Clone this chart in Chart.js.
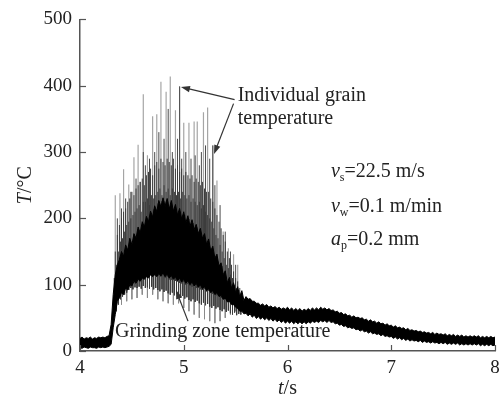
<!DOCTYPE html>
<html>
<head>
<meta charset="utf-8">
<script src="https://cdn.jsdelivr.net/npm/chart.js@4.4.1/dist/chart.umd.min.js"></script>
<style>
html, body { margin: 0; padding: 0; background: #fff; }
</style>
</head>
<body>
<canvas id="tempcanvas" width="499" height="397"></canvas>
<script>
// sampled band of the signal (every 0.02 s from 4.00 s to 8.00 s)
var bandStart = 4.0;
var bandStep = 0.02;
var bandLow = [
    5, 4, 6, 5, 4, 6, 5, 5, 4, 6,
    5, 6, 5, 6, 7, 10, 35, 55, 75, 80,
    88, 85, 95, 92, 100, 98, 105, 102, 108, 105,
    110, 108, 112, 110, 115, 112, 116, 112, 117, 113,
    118, 112, 116, 110, 114, 108, 112, 106, 110, 104,
    108, 102, 106, 100, 104, 98, 102, 96, 100, 94,
    97, 91, 94, 88, 91, 85, 88, 82, 84, 78,
    80, 74, 75, 70, 70, 66, 64, 60, 60, 56,
    57, 53, 56, 51, 54, 49, 52, 48, 51, 47,
    50, 46, 49, 45, 48, 44, 47, 43, 46, 42,
    45, 42, 45, 41, 44, 41, 44, 41, 44, 41,
    44, 42, 45, 43, 45, 43, 46, 44, 46, 43,
    46, 43, 44, 41, 42, 39, 40, 37, 38, 35,
    36, 34, 35, 32, 33, 30, 32, 29, 30, 27,
    29, 26, 27, 25, 26, 23, 25, 22, 23, 21,
    22, 19, 21, 18, 20, 17, 19, 16, 18, 15,
    17, 15, 16, 14, 16, 13, 15, 13, 14, 12,
    14, 12, 13, 11, 13, 11, 13, 10, 12, 10,
    12, 10, 12, 9, 11, 9, 11, 9, 11, 9,
    11, 9, 11, 8, 10, 8, 10, 8, 10, 8,
    9
];
var bandHigh = [
    19, 21, 18, 20, 19, 21, 18, 20, 19, 21,
    20, 21, 20, 22, 23, 40, 85, 115, 130, 138,
    150, 143, 160, 152, 170, 160, 177, 170, 187, 178,
    195, 187, 203, 195, 211, 202, 219, 210, 227, 217,
    231, 218, 230, 214, 227, 211, 221, 205, 215, 199,
    210, 193, 204, 188, 198, 183, 191, 177, 185, 170,
    177, 161, 169, 151, 158, 140, 146, 128, 133, 115,
    121, 103, 111, 95, 103, 88, 97, 81, 91, 76,
    82, 78, 79, 75, 75, 72, 72, 69, 71, 68,
    70, 66, 68, 65, 67, 64, 66, 63, 65, 63,
    66, 62, 65, 61, 64, 61, 64, 60, 63, 61,
    64, 61, 65, 62, 65, 62, 66, 63, 65, 62,
    64, 61, 62, 59, 60, 57, 58, 55, 56, 53,
    54, 51, 53, 50, 51, 49, 50, 47, 48, 45,
    47, 44, 45, 42, 44, 41, 42, 39, 41, 38,
    39, 36, 38, 35, 36, 34, 35, 32, 34, 31,
    32, 30, 31, 29, 30, 28, 29, 27, 28, 26,
    28, 25, 27, 25, 26, 24, 26, 23, 25, 23,
    25, 22, 24, 22, 24, 21, 23, 21, 23, 21,
    23, 21, 23, 20, 22, 20, 22, 20, 22, 20,
    21
];

// dense dark spikes above the band (every 0.01 s from 4.33 s)
var jagUpStart = 4.33;
var jagUp = [
    110, 150, 130, 175, 150, 190, 165, 200, 170, 210,
    180, 215, 190, 225, 195, 230, 200, 240, 205, 235,
    210, 245, 215, 250, 220, 255, 210, 260, 225, 250,
    225, 265, 230, 270, 220, 275, 235, 265, 230, 280,
    235, 285, 240, 275, 245, 290, 235, 285, 250, 280,
    240, 290, 245, 285, 235, 280, 245, 290, 240, 275,
    235, 280, 240, 270, 230, 275, 240, 265, 235, 270,
    230, 265, 235, 260, 225, 265, 230, 255, 225, 260,
    220, 255, 225, 250, 215, 255, 220, 245, 210, 240,
    205, 240, 200, 230, 195, 225, 185, 215, 175, 205,
    170, 195, 160, 185, 150, 175, 140, 165, 130, 150,
    125, 140, 115, 130, 110, 120, 100, 110, 95, 105,
    90, 95, 88
];
// dense dark dips below the band (every 0.01 s from 4.35 s)
var jagDownStart = 4.35;
var jagDown = [
    60, 80, 70, 90, 78, 95, 82, 100, 85, 105,
    88, 108, 92, 110, 95, 112, 93, 110, 96, 115,
    95, 112, 97, 115, 94, 113, 98, 116, 95, 114,
    96, 117, 94, 115, 97, 118, 93, 114, 95, 116,
    92, 113, 90, 112, 93, 114, 89, 110, 91, 112,
    87, 108, 85, 107, 88, 110, 84, 106, 86, 105,
    82, 103, 80, 102, 83, 104, 79, 100, 81, 101,
    77, 98, 75, 97, 78, 99, 74, 95, 76, 96,
    72, 93, 70, 92, 73, 94, 69, 90, 71, 91,
    67, 88, 65, 86, 68, 89, 64, 84, 66, 85,
    62, 80, 60, 78, 63, 80, 59, 76, 61, 75,
    57, 72, 55, 70, 58, 70, 54, 67, 56, 65,
    55
];

// individual grain spikes (light grey)
var spikeTimes = [4.34, 4.385, 4.42, 4.47, 4.52, 4.56, 4.61, 4.65, 4.70, 4.74, 4.78, 4.83, 4.87, 4.92,
    4.96, 5.00, 5.05, 5.10, 5.13, 5.19, 5.23, 5.28, 5.32, 5.38, 5.43, 5.48, 5.52];
var spikePeaks = [235, 238, 274, 251, 292, 311, 387, 295, 354, 357, 406, 391, 414, 363,
    399, 344, 344, 346, 346, 360, 367, 310, 257, 180, 155, 146, 130];
// darker inner spikes
var innerTimes = [4.36, 4.40, 4.44, 4.49, 4.54, 4.58, 4.61, 4.63, 4.67, 4.72, 4.76, 4.81, 4.85, 4.89, 4.94,
    4.96, 4.98, 5.02, 5.07, 5.11, 5.15, 5.17, 5.21, 5.25, 5.28, 5.30, 5.35, 5.40, 5.45, 5.50];
var innerPeaks = [200, 215, 230, 240, 260, 255, 300, 280, 290, 300, 330, 320, 365, 300, 320,
    399, 290, 300, 290, 295, 280, 300, 310, 290, 310, 250, 220, 180, 150, 130];
// light grey dips below the band
var dipTimes = [4.40, 4.45, 4.50, 4.55, 4.60, 4.65, 4.70, 4.75, 4.80, 4.85, 4.90, 4.95, 5.00, 5.05,
    5.10, 5.15, 5.20, 5.25, 5.30, 5.35, 5.40, 5.45, 5.50];
var dipValues = [70, 75, 78, 80, 85, 80, 85, 78, 75, 72, 70, 72, 65, 60,
    55, 50, 48, 45, 42, 45, 50, 55, 60];

var xTicks = [4, 5, 6, 7, 8];
var yTicks = [0, 100, 200, 300, 400, 500];

var serif = "'Liberation Serif', 'Times New Roman', serif";
var axisColor = '#555';
var textColor = '#222';

function bandIndex(t) {
    var i = Math.round((t - bandStart) / bandStep);
    return Math.max(0, Math.min(bandLow.length - 1, i));
}

var lowPoints = bandLow.map(function (v, i) { return { x: bandStart + i * bandStep, y: v }; });
var highPoints = bandHigh.map(function (v, i) { return { x: bandStart + i * bandStep, y: v }; });
var jagUpTimes = jagUp.map(function (v, i) { return jagUpStart + i * 0.01; });
var jagDownTimes = jagDown.map(function (v, i) { return jagDownStart + i * 0.01; });

function segments(times, ends, fromHigh) {
    var pts = [];
    times.forEach(function (t, i) {
        var k = bandIndex(t);
        var base = fromHigh ? bandHigh[k] - 5 : bandLow[k] + 5;
        pts.push({ x: t, y: base });
        pts.push({ x: t, y: ends[i] });
        pts.push({ x: t, y: null });
    });
    return pts;
}

function richText(ctx, parts, x, y, size) {
    var cx = x;
    parts.forEach(function (p) {
        var fs = p.sub ? Math.round(size * 0.6) : size;
        ctx.font = (p.italic ? 'italic ' : '') + fs + 'px ' + serif;
        ctx.fillText(p.text, cx, p.sub ? y + size * 0.22 : y);
        cx += ctx.measureText(p.text).width;
    });
    return cx - x;
}

function richWidth(ctx, parts, size) {
    var w = 0;
    parts.forEach(function (p) {
        var fs = p.sub ? Math.round(size * 0.6) : size;
        ctx.font = (p.italic ? 'italic ' : '') + fs + 'px ' + serif;
        w += ctx.measureText(p.text).width;
    });
    return w;
}

function arrow(ctx, x1, y1, x2, y2) {
    var ang = Math.atan2(y2 - y1, x2 - x1);
    var len = 9, wid = 3.2;
    ctx.beginPath();
    ctx.moveTo(x1, y1);
    ctx.lineTo(x2 - Math.cos(ang) * len * 0.8, y2 - Math.sin(ang) * len * 0.8);
    ctx.stroke();
    ctx.beginPath();
    ctx.moveTo(x2, y2);
    ctx.lineTo(x2 - Math.cos(ang) * len - Math.sin(ang) * wid, y2 - Math.sin(ang) * len + Math.cos(ang) * wid);
    ctx.lineTo(x2 - Math.cos(ang) * len + Math.sin(ang) * wid, y2 - Math.sin(ang) * len - Math.cos(ang) * wid);
    ctx.closePath();
    ctx.fill();
}

var decorPlugin = {
    id: 'decor',
    afterDraw: function (chart) {
        var ctx = chart.ctx, xs = chart.scales.x, ys = chart.scales.y, area = chart.chartArea;
        var X = function (t) { return xs.getPixelForValue(t); };
        var Y = function (v) { return ys.getPixelForValue(v); };
        ctx.save();
        // inward tick marks
        ctx.strokeStyle = axisColor;
        ctx.lineWidth = 1.2;
        yTicks.forEach(function (v) {
            var py = Math.round(Y(v)) + 0.5;
            ctx.beginPath(); ctx.moveTo(area.left, py); ctx.lineTo(area.left + 6, py); ctx.stroke();
        });
        xTicks.forEach(function (t) {
            var px = Math.round(X(t)) + 0.5;
            ctx.beginPath(); ctx.moveTo(px, area.bottom); ctx.lineTo(px, area.bottom - 6); ctx.stroke();
        });

        ctx.fillStyle = textColor;
        ctx.textBaseline = 'alphabetic';
        ctx.textAlign = 'left';
        // axis titles
        var xt = [{ text: 't', italic: true }, { text: '/s' }];
        var wx = richWidth(ctx, xt, 20);
        richText(ctx, xt, (area.left + area.right) / 2 - wx / 2, 394, 20);
        var yt = [{ text: 'T', italic: true }, { text: '/\u00b0C' }];
        var wy = richWidth(ctx, yt, 20);
        ctx.save();
        ctx.translate(31, (area.top + area.bottom) / 2);
        ctx.rotate(-Math.PI / 2);
        richText(ctx, yt, -wy / 2, 0, 20);
        ctx.restore();

        // annotations
        ctx.font = '20px ' + serif;
        ctx.fillText('Individual grain', X(5.52), Y(377));
        ctx.fillText('temperature', X(5.52), Y(343));
        ctx.fillText('Grinding zone temperature', X(4.337), Y(21));
        richText(ctx, [{ text: 'v', italic: true }, { text: 's', sub: true }, { text: '=22.5 m/s' }], X(6.419), Y(263), 20);
        richText(ctx, [{ text: 'v', italic: true }, { text: 'w', sub: true }, { text: '=0.1 m/min' }], X(6.419), Y(210), 20);
        richText(ctx, [{ text: 'a', italic: true }, { text: 'p', sub: true }, { text: '=0.2 mm' }], X(6.419), Y(160), 20);

        ctx.strokeStyle = '#333';
        ctx.fillStyle = '#333';
        ctx.lineWidth = 1.2;
        arrow(ctx, X(5.49), Y(379), X(4.973), Y(398));
        arrow(ctx, X(5.48), Y(373), X(5.292), Y(297));
        arrow(ctx, X(5.041), Y(45), X(4.925), Y(92));
        ctx.restore();
    }
};

new Chart(document.getElementById('tempcanvas').getContext('2d'), {
    type: 'line',
    data: {
        datasets: [
            { data: lowPoints, borderColor: '#000', borderWidth: 1, pointRadius: 0, fill: false },
            { data: highPoints, borderColor: '#000', borderWidth: 1, pointRadius: 0, fill: '-1', backgroundColor: '#000' },
            { data: segments(jagUpTimes, jagUp, false), borderColor: '#3c3c3c', borderWidth: 1, pointRadius: 0, spanGaps: false },
            { data: segments(jagDownTimes, jagDown, true), borderColor: '#3c3c3c', borderWidth: 1, pointRadius: 0, spanGaps: false },
            { data: segments(innerTimes, innerPeaks, false), borderColor: '#4a4a4a', borderWidth: 1, pointRadius: 0, spanGaps: false },
            { data: segments(spikeTimes, spikePeaks, false), borderColor: '#a5a5a5', borderWidth: 1.2, pointRadius: 0, spanGaps: false },
            { data: segments(dipTimes, dipValues, true), borderColor: '#8a8a8a', borderWidth: 1, pointRadius: 0, spanGaps: false }
        ]
    },
    options: {
        responsive: false,
        devicePixelRatio: 1,
        animation: false,
        layout: { padding: { top: 16, right: 4, left: 0, bottom: 0 } },
        plugins: { legend: { display: false }, tooltip: { enabled: false } },
        elements: { line: { tension: 0 } },
        scales: {
            x: {
                type: 'linear', min: 4, max: 8,
                afterBuildTicks: function (scale) { scale.ticks = xTicks.map(function (v) { return { value: v }; }); },
                afterFit: function (scale) { scale.height = 46; scale.paddingRight = 0; },
                grid: { display: false, drawTicks: false },
                border: { display: true, color: axisColor, width: 1.5 },
                ticks: { padding: 6, color: textColor, font: { family: serif, size: 19 }, maxRotation: 0 }
            },
            y: {
                min: 0, max: 500,
                afterBuildTicks: function (scale) { scale.ticks = yTicks.map(function (v) { return { value: v }; }); },
                afterFit: function (scale) { scale.width = 80; },
                grid: { display: false, drawTicks: false },
                border: { display: true, color: axisColor, width: 1.5 },
                ticks: { padding: 8, color: textColor, font: { family: serif, size: 19 } }
            }
        }
    },
    plugins: [decorPlugin]
});
</script>
</body>
</html>
